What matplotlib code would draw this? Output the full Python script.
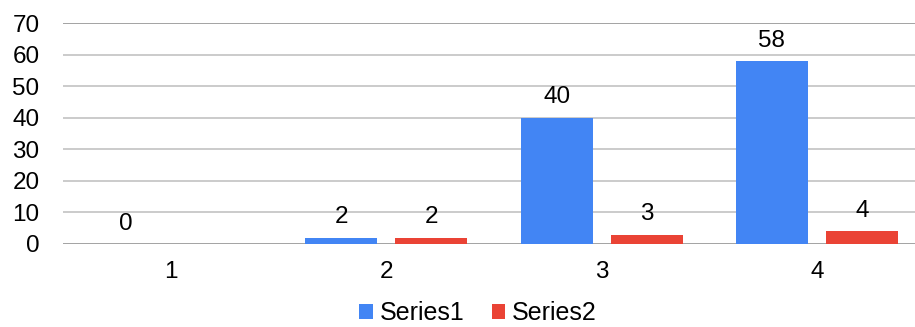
import matplotlib
matplotlib.use("Agg")
import matplotlib.pyplot as plt
import numpy as np

categories = ["1", "2", "3", "4"]
series1 = [0, 2, 40, 58]
series2 = [np.nan, 2, 3, 4]
series_names = ["Series1", "Series2"]
colors = ["#4285F4", "#EA4335"]
y_ticks = [0, 10, 20, 30, 40, 50, 60, 70]

plt.rcParams["font.family"] = ["Liberation Sans", "DejaVu Sans"]
FS = 17.5
LEG_FS = 18

W, H = 915, 327
fig = plt.figure(figsize=(W / 100, H / 100), dpi=100)
ax = fig.add_axes([63 / W, 1 - 244 / H, (W - 63) / W, (244 - 23.3) / H])

x = np.arange(len(categories))
bw = 0.334
off = 0.209
for vals, name, col, sgn in zip([series1, series2], series_names, colors, [-1, 1]):
    v = np.array(vals, dtype=float)
    ax.bar(x + sgn * off, np.nan_to_num(v), width=bw, color=col, label=name, zorder=3)
    for xi, vi in zip(x + sgn * off, v):
        if np.isnan(vi):
            continue
        ax.annotate(f"{vi:g}", (xi, vi), xytext=(0, 14.5), textcoords="offset pixels",
                    ha="center", va="baseline", fontsize=FS, color="black")

ax.set_xlim(-0.502, 3.456)
ax.set_ylim(0, 70)
ax.set_yticks(y_ticks)
ax.set_yticklabels([str(t) for t in y_ticks])
ax.set_xticks(x)
ax.set_xticklabels(categories)
ax.tick_params(axis="both", length=0, labelsize=FS)
ax.tick_params(axis="y", pad=17)
ax.tick_params(axis="x", pad=12)

for t in y_ticks:
    c = "#8a8a8a" if t in (0, 70) else "#bdbdbd"
    ax.axhline(t, color=c, linewidth=1.1, zorder=1)

for s in ax.spines.values():
    s.set_visible(False)

fig.legend(loc="center", bbox_to_anchor=(478 / W, 1 - 313.5 / H), ncol=2, frameon=False,
           fontsize=LEG_FS, handlelength=0.54, handleheight=0.54, handletextpad=0.28,
           columnspacing=1.1, borderaxespad=0, borderpad=0)

fig.savefig("out.png", dpi=100)
